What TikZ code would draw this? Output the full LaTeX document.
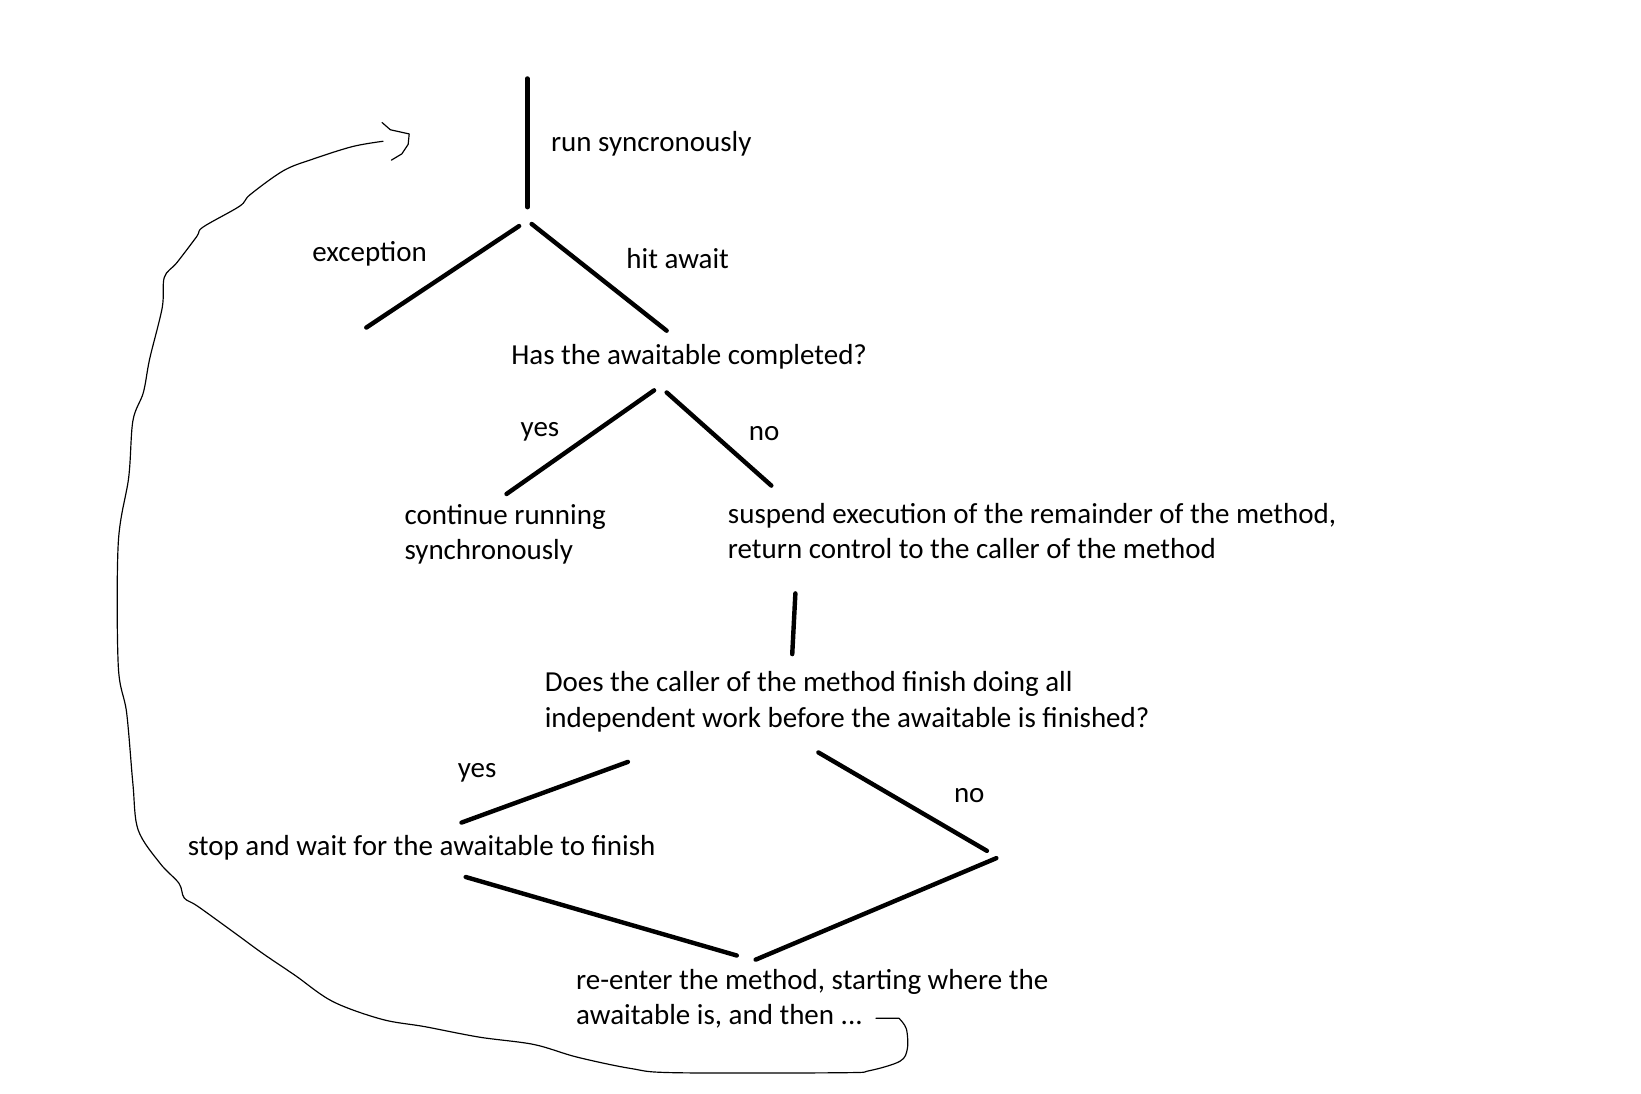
\documentclass[tikz,border=0pt]{standalone}
\usepackage{fontspec}
\setmainfont{Carlito}

\begin{document}
\begin{tikzpicture}[
  x=0.0125cm, y=-0.0125cm,
  font=\fontsize{9.85}{12.05}\selectfont,
  txt/.style={anchor=base west, inner sep=0pt, align=left},
  stroke/.style={line width=1.5pt, line cap=round},
  hand/.style={line width=0.4pt, line join=round, line cap=round}
]
\useasboundingbox (0,0) rectangle (1568,1045);

% texts (two-line nodes sit on the baseline of their last line)
\node[txt] (run)   at (526,145) {run syncronously};
\node[txt] (exc)   at (298,250) {exception};
\node[txt] (hit)   at (598,257) {hit await};
\node[txt] (has)   at (488,348) {Has the awaitable completed?};
\node[txt] (yesA)  at (497,417) {yes};
\node[txt] (noA)   at (715,421) {no};
\node[txt] (cont)  at (386,535) {continue running\\synchronously};
\node[txt] (susp)  at (695,534) {suspend execution of the remainder of the method,\\return control to the caller of the method};
\node[txt] (does)  at (520,695) {Does the caller of the method finish doing all\\independent work before the awaitable is finished?};
\node[txt] (yesB)  at (437,743) {yes};
\node[txt] (noB)   at (911,767) {no};
\node[txt] (stop)  at (179,817) {stop and wait for the awaitable to finish};
\node[txt] (reent) at (550,979) {re-enter the method, starting where the\\awaitable is, and then ...};

% line ends
\coordinate (runA) at (504,75);   \coordinate (runB) at (504,198);
\coordinate (excA) at (496,216);  \coordinate (excB) at (350,313);
\coordinate (hitA) at (508,214);  \coordinate (hitB) at (637,316);
\coordinate (yesAa) at (625,373); \coordinate (yesAb) at (484,472);
\coordinate (noAa) at (637,375);  \coordinate (noAb) at (737,464);
\coordinate (suspA) at (760,567); \coordinate (suspB) at (757,625);
\coordinate (yesBa) at (600,728); \coordinate (yesBb) at (441,786);
\coordinate (noBa) at (782,719);  \coordinate (noBb) at (943,813);
\coordinate (stopA) at (445,838); \coordinate (stopB) at (704,913);
\coordinate (joinA) at (952,820); \coordinate (joinB) at (722,917);
\coordinate (loopstart) at (837,973);
\coordinate (looptip) at (366,135);

\draw[stroke] (runA) -- (runB);
\draw[stroke] (excA) -- (excB);
\draw[stroke] (hitA) -- (hitB);
\draw[stroke] (yesAa) -- (yesAb);
\draw[stroke] (noAa) -- (noAb);
\draw[stroke] (suspA) -- (suspB);
\draw[stroke] (yesBa) -- (yesBb);
\draw[stroke] (noBa) -- (noBb);
\draw[stroke] (stopA) -- (stopB);
\draw[stroke] (joinA) -- (joinB);

% loop back
\draw[hand] (loopstart) -- (859,973)
  plot[smooth, tension=0.55] coordinates {(859,973) (866,983) (867,1002) (860,1014) (831,1023)
  (805,1025) (645,1025) (603,1021) (551,1010) (510,998) (458,991) (406,981) (365,974)
  (318,957) (282,932) (251,911) (225,892) (189,866) (176,858) (171,844) (153,825)
  (132,793) (127,749) (121,681) (113,636) (113,519) (123,456) (127,402) (137,375)
  (143,343) (155,294) (157,265) (169,251) (188,226) (194,217) (229,197) (239,186)
  (271,163) (299,152) (337,140) (366,135)} -- (looptip);
\draw[hand] (365,117) -- (373,124) -- (391,128) -- (390,138) -- (384,147) -- (374,153);
\end{tikzpicture}
\end{document}
